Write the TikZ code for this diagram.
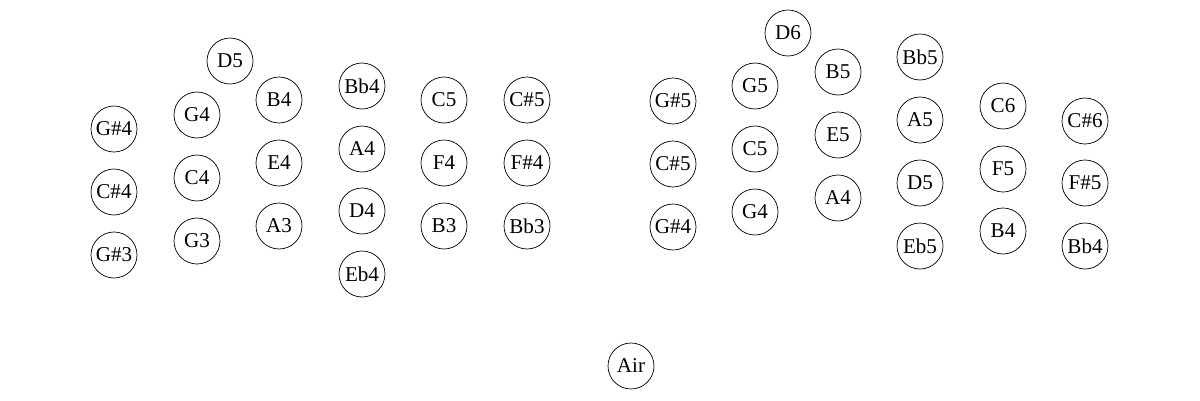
\documentclass[tikz,border=0pt]{standalone}
\usepackage{fontspec}
\setmainfont{Liberation Serif}
\usetikzlibrary{positioning}
\tikzset{
	hole/.style={draw, circle, thin, minimum size=0.92cm, inner sep=0pt, font=\fontsize{12}{14}\selectfont},
}

\begin{document}
\begin{tikzpicture}[x=0.02cm, y=-0.02cm]
        \useasboundingbox (0,0) rectangle (1200,400);
        % left hand
        \foreach \px/\py/\nm/\lb in {
                114/129/lGsf/G\#4, 114/192/lCsf/C\#4, 114/255/lGst/G\#3,
                197/115/lGf/G4, 197/178/lCf/C4, 197/241/lGt/G3, 230/61/lDv/D5,
                279/100/lBf/B4, 279/163/lEf/E4, 279/226/lAt/A3,
                362/86/lBbf/Bb4, 362/149/lAf/A4, 362/211/lDf/D4, 362/274/lEbf/Eb4,
                444/100/lCv/C5, 444/163/lFf/F4, 444/226/lBt/B3,
                527/100/lCsv/C\#5, 527/163/lFsf/F\#4, 527/226/lBbt/Bb3}
            \node[hole] (\nm) at (\px,\py) {\lb};
        % right hand
        \foreach \px/\py/\nm/\lb in {
                673/101/rGsv/G\#5, 673/164/rCsv/C\#5, 673/227/rGsf/G\#4,
                755/86/rGv/G5, 755/149/rCv/C5, 755/212/rGf/G4, 788/33/rDs/D6,
                838/72/rBv/B5, 838/135/rEv/E5, 838/198/rAf/A4,
                920/57/rBbv/Bb5, 920/120/rAv/A5, 920/183/rDv/D5, 920/246/rEbv/Eb5,
                1003/106/rCs/C6, 1003/169/rFv/F5, 1003/231/rBf/B4,
                1085/121/rCss/C\#6, 1085/183/rFsv/F\#5, 1085/246/rBbf/Bb4}
            \node[hole] (\nm) at (\px,\py) {\lb};
        \node[hole] (air) at (631,366) {Air};
    \end{tikzpicture}
\end{document}
